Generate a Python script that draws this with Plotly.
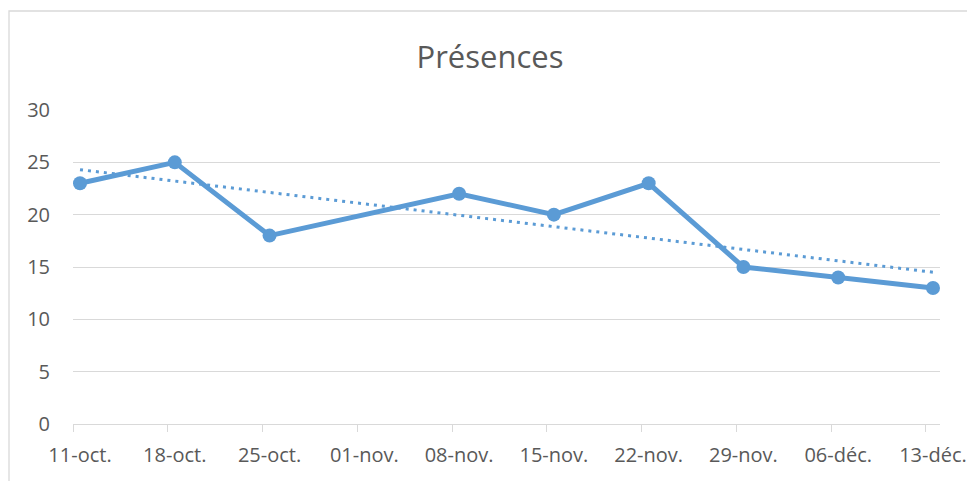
import plotly.graph_objects as go

dates = ["11-oct.", "18-oct.", "25-oct.", "01-nov.", "08-nov.", "15-nov.", "22-nov.", "29-nov.", "06-déc.", "13-déc."]
presences = [23, 25, 18, None, 22, 20, 23, 15, 14, 13]
trend_ends = [24.3, 14.5]

x_idx = list(range(len(dates)))
color = "#5B9BD5"
fig = go.Figure()
fig.add_trace(go.Scatter(x=[x_idx[0], x_idx[-1]], y=trend_ends, mode="lines",
                         line=dict(color=color, width=3, dash="3px,5px"), showlegend=False))
fig.add_trace(go.Scatter(x=x_idx, y=presences, mode="lines+markers", connectgaps=True,
                         line=dict(color=color, width=5), marker=dict(size=14, color=color),
                         showlegend=False))

fig.update_layout(
    width=967, height=481,
    margin=dict(l=73, r=27, t=110, b=57, autoexpand=False),
    paper_bgcolor="white", plot_bgcolor="white",
    font=dict(family="Open Sans, Liberation Sans, sans-serif", color="#595959", size=20),
    title=dict(text="Présences", x=490 / 967, xref="container", y=1 - 57 / 481, yref="container",
               xanchor="center", yanchor="middle", font=dict(size=31, color="#595959")),
    xaxis=dict(range=[-0.074, 9.074], tickvals=[i - 0.074 for i in x_idx], ticktext=dates,
               ticklabelshift=7, showgrid=False, automargin=False,
               zeroline=False, showline=False, ticks="outside", ticklen=7, tickcolor="#D9D9D9",
               tickwidth=1.3, ticklabelstandoff=6),
    yaxis=dict(range=[0, 30], dtick=5, showgrid=True, gridcolor="#D9D9D9", gridwidth=1.3,
               automargin=False,
               zeroline=True, zerolinecolor="#D9D9D9", zerolinewidth=1.3, ticks="", ticklabelstandoff=22),
    shapes=[dict(type="rect", xref="paper", yref="paper", x0=(9 - 73) / 867, x1=1.06,
                 y0=-0.3, y1=1 + (110 - 11) / 314,
                 line=dict(color="#D9D9D9", width=1.3), fillcolor="rgba(0,0,0,0)", layer="below")],
)
fig.write_html("out.html", config={"displayModeBar": False},
               post_script="document.body.style.margin='0';document.body.style.overflow='hidden';")
